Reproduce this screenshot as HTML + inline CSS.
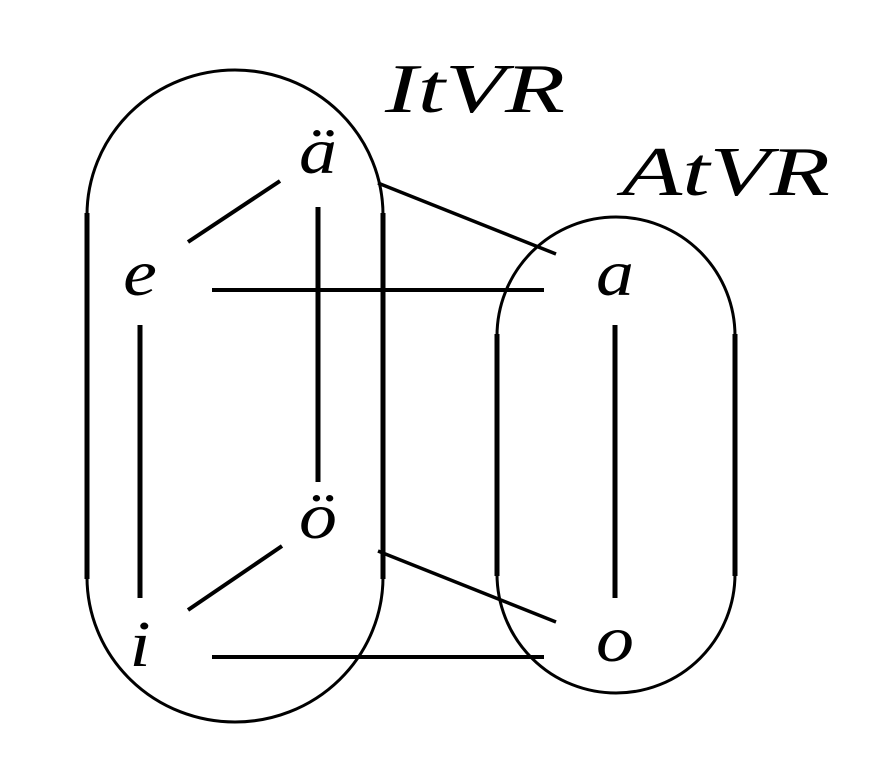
<!DOCTYPE html>
<html><head><meta charset="utf-8"><style>
html,body{margin:0;padding:0;background:#fff;}
svg{display:block;}
text{font-family:"Liberation Serif",serif;font-style:italic;fill:#000;}
</style></head><body>
<svg width="872" height="773" viewBox="0 0 872 773" xmlns="http://www.w3.org/2000/svg">
<g fill="none" stroke="#000">
<path d="M87,215 A148,145 0 0 1 383,215" stroke-width="3"/>
<path d="M87,577 A148,145 0 0 0 383,577" stroke-width="3"/>
<line x1="87" y1="213" x2="87" y2="579" stroke-width="5"/>
<line x1="383" y1="213" x2="383" y2="579" stroke-width="5"/>
<path d="M497,336 A119,119 0 0 1 735,336" stroke-width="3"/>
<path d="M497,574 A119,119 0 0 0 735,574" stroke-width="3"/>
<line x1="497" y1="334" x2="497" y2="576" stroke-width="5"/>
<line x1="735" y1="334" x2="735" y2="576" stroke-width="5"/>
<line x1="188" y1="242" x2="280" y2="181" stroke-width="4"/>
<line x1="318" y1="207" x2="318" y2="482" stroke-width="5"/>
<line x1="212" y1="290" x2="544" y2="290" stroke-width="4"/>
<line x1="140" y1="325" x2="140" y2="598" stroke-width="5"/>
<line x1="188" y1="610" x2="282" y2="546" stroke-width="4"/>
<line x1="212" y1="657" x2="544" y2="657" stroke-width="4"/>
<line x1="615" y1="325" x2="615" y2="598" stroke-width="5"/>
<line x1="378" y1="183" x2="556" y2="254" stroke-width="3.5"/>
<line x1="378" y1="551" x2="556" y2="622" stroke-width="3.5"/>
</g>
<g font-size="66" text-anchor="middle">
<text transform="translate(318,173) scale(1.15,1)">ä</text>
<text transform="translate(140,295) scale(1.15,1)">e</text>
<text transform="translate(615,295) scale(1.15,1)">a</text>
<text transform="translate(318,538) scale(1.15,1)">ö</text>
<text transform="translate(140,666) scale(1.15,1)">i</text>
<text transform="translate(615,661) scale(1.15,1)">o</text>
</g>
<text x="385" y="112" font-size="70" textLength="180" lengthAdjust="spacingAndGlyphs">ItVR</text>
<text x="622" y="195" font-size="70" textLength="208" lengthAdjust="spacingAndGlyphs">AtVR</text>
</svg>
</body></html>
